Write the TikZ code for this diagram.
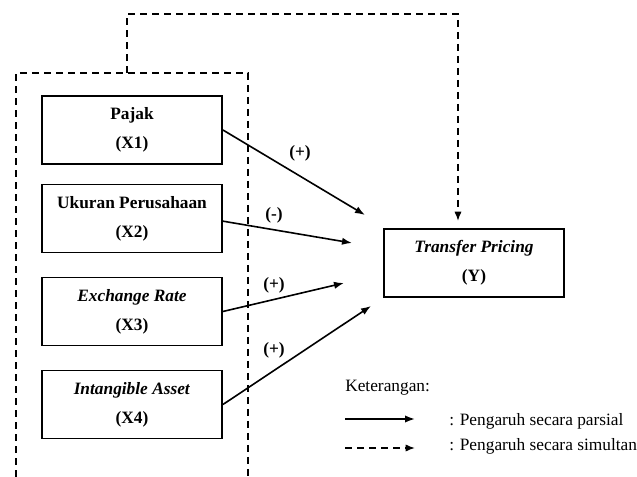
\documentclass[tikz,border=0pt]{standalone}
\usepackage{fontspec}
\setmainfont{Liberation Serif}
\usetikzlibrary{arrows.meta}
\begin{document}
\begin{tikzpicture}[x=0.75pt,y=-0.75pt,
  varbox/.style={draw, line width=1.4pt, minimum width=135pt, minimum height=51pt, inner sep=0pt, align=center, font=\fontsize{13}{15.6}\selectfont\bfseries},
  partial/.style={line width=1.2pt, -{Latex[length=7.5pt,width=5.5pt]}},
  simul/.style={line width=1.2pt, dash pattern=on 5.5pt off 3.5pt},
  simularrow/.style={simul, -{Latex[length=7pt,width=5.5pt]}},
  sign/.style={font=\fontsize{13}{15.6}\selectfont\bfseries, inner sep=0pt},
  legtext/.style={font=\fontsize{13}{15.6}\selectfont, anchor=base west, inner sep=0pt}]
\useasboundingbox (0,0) rectangle (637,477);

% independent variables
\node[varbox] (x1) at (132,130) {Pajak\\[6pt](X1)};
\node[varbox] (x2) at (132,218.5) {Ukuran Perusahaan\\[6pt](X2)};
\node[varbox] (x3) at (132,311.5) {\textit{Exchange Rate}\\[6pt](X3)};
\node[varbox] (x4) at (132,404.5) {\textit{Intangible Asset}\\[6pt](X4)};

% dependent variable
\node[varbox] (y) at (474,263) {\textit{Transfer Pricing}\\[6pt](Y)};

% arrow end points
\coordinate (t1) at (365,215);
\coordinate (t2) at (352,243);
\coordinate (t3) at (344,283);
\coordinate (t4) at (371,306);

\draw[partial] (x1.east) -- (t1);
\draw[partial] ([yshift=-2pt]x2.east) -- (t2);
\draw[partial] (x3.east) -- (t3);
\draw[partial] (x4.east) -- (t4);

% signs
\node[sign] (s1) at (300,153) {(+)};
\node[sign] (s2) at (274,215) {(-)};
\node[sign] (s3) at (274,285) {(+)};
\node[sign] (s4) at (274,350) {(+)};

% simultaneous grouping
\coordinate (gbl) at (16,477);
\coordinate (gtl) at (16,73);
\coordinate (gtr) at (248,73);
\coordinate (gbr) at (248,477);
\draw[simul] (gbl) -- (gtl) -- (gtr) -- (gbr);

\coordinate (g0) at (127,73);
\coordinate (g1) at (127,14);
\coordinate (g2) at (458,14);
\coordinate (g3) at (458,221);
\draw[simularrow] (g0) -- (g1) -- (g2) -- (g3);

% legend
\node[legtext] (ket) at (345,392) {Keterangan:};
\coordinate (l1a) at (345,419);
\coordinate (l1b) at (415,419);
\coordinate (l2a) at (345,448);
\coordinate (l2b) at (415,448);
\draw[partial] (l1a) -- (l1b);
\draw[simularrow] (l2a) -- (l2b);
\node[legtext] (lt1) at (449,425.5) {: Pengaruh secara parsial};
\node[legtext] (lt2) at (449,451) {: Pengaruh secara simultan};
\end{tikzpicture}
\end{document}
